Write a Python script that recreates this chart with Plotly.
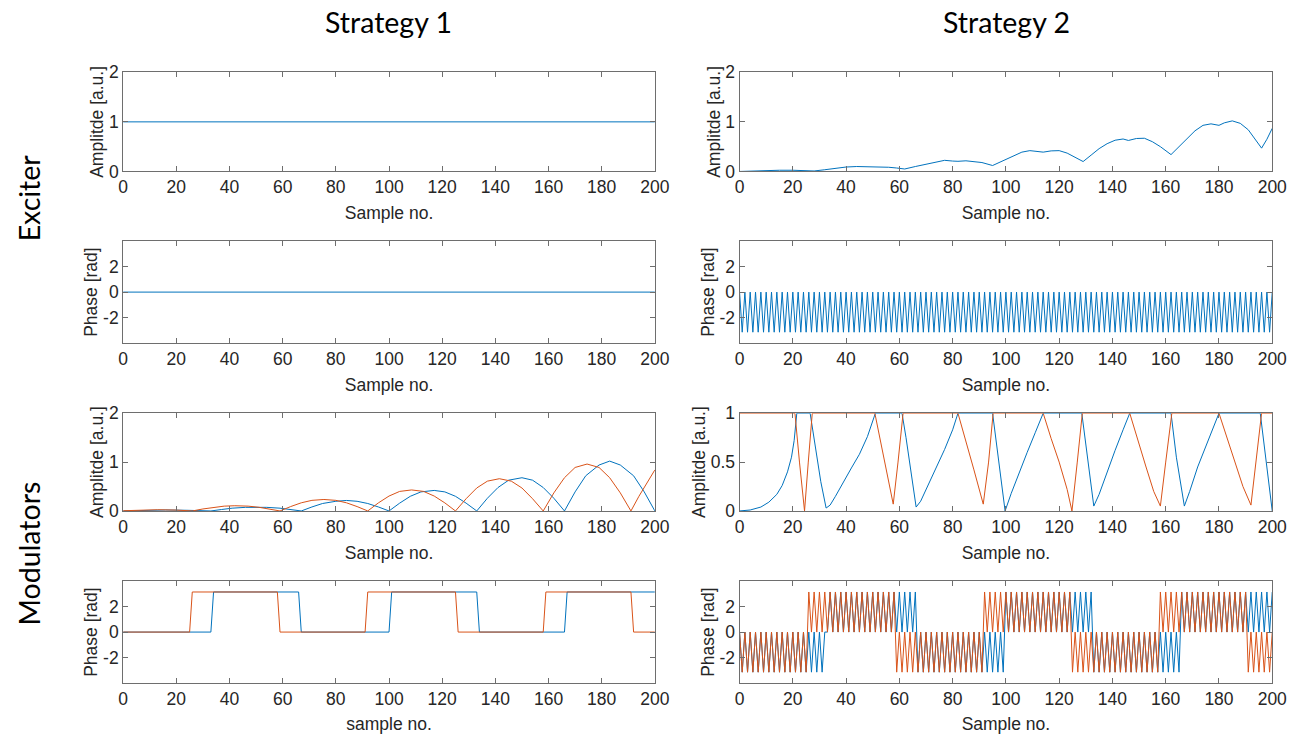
import plotly.graph_objects as go

# ---------------- data ----------------
TICKS_X = [0, 20, 40, 60, 80, 100, 120, 140, 160, 180, 200]
PH_TICKS = [-2, 0, 2]
PH_TICKTEXT = ["-2", "0", "2"]
AMP_TICKS = [0, 1, 2]
AMP2_TICKS = [0, 0.5, 1]
AMP2_TICKTEXT = ["0", "0.5", "1"]

# Strategy 1, exciter
S1_EXC_AMP_X = [0, 200]
S1_EXC_AMP_Y = [1, 1]
S1_EXC_PH_X = [0, 200]
S1_EXC_PH_Y = [0, 0]

# Strategy 2, exciter amplitude (key points)
S2_EXC_AMP_X = [0, 5, 10, 15, 20, 24, 28, 32, 36, 40, 44, 48, 52, 56, 59, 62, 66, 70, 74, 77,
                80, 82, 85, 88, 91, 95, 99, 103, 106, 109, 112, 114, 117, 120, 123, 126, 129,
                132, 135, 138, 141, 144, 146, 149, 152, 155, 158, 162, 165, 168, 171, 174, 177,
                180, 182, 185, 188, 191, 194, 196, 198, 200]
S2_EXC_AMP_Y = [0.0, 0.01, 0.02, 0.025, 0.025, 0.018, 0.01, 0.035, 0.065, 0.09, 0.1, 0.1, 0.085,
                0.085, 0.07, 0.05, 0.1, 0.15, 0.2, 0.225, 0.21, 0.205, 0.215, 0.205, 0.18, 0.12,
                0.22, 0.33, 0.39, 0.42, 0.41, 0.39, 0.415, 0.42, 0.37, 0.29, 0.2, 0.33, 0.46,
                0.56, 0.63, 0.655, 0.625, 0.665, 0.67, 0.6, 0.5, 0.34, 0.5, 0.68, 0.82, 0.93,
                0.96, 0.93, 0.98, 1.02, 0.97, 0.84, 0.62, 0.47, 0.65, 0.87]

# Strategy 2, exciter phase (one value per sample 0..200)
S2_EXC_PH = [
    0, -3.14, 0, -3.14, 0, -3.14, 0, -3.14, 0, -3.14, 0, -3.14, 0, -3.14, 0, -3.14, 0, -3.14, 0, -3.14,
    0, -3.14, 0, -3.14, 0, -3.14, 0, -3.14, 0, -3.14, 0, -3.14, 0, -3.14, 0, -3.14, 0, -3.14, 0, -3.14,
    0, -3.14, 0, -3.14, 0, -3.14, 0, -3.14, 0, -3.14, 0, -3.14, 0, -3.14, 0, -3.14, 0, -3.14, 0, -3.14,
    0, -3.14, 0, -3.14, 0, -3.14, 0, -3.14, 0, -3.14, 0, -3.14, 0, -3.14, 0, -3.14, 0, -3.14, 0, -3.14,
    0, -3.14, 0, -3.14, 0, -3.14, 0, -3.14, 0, -3.14, 0, -3.14, 0, -3.14, 0, -3.14, 0, -3.14, 0, -3.14,
    0, -3.14, 0, -3.14, 0, -3.14, 0, -3.14, 0, -3.14, 0, -3.14, 0, -3.14, 0, -3.14, 0, -3.14, 0, -3.14,
    0, -3.14, 0, -3.14, 0, -3.14, 0, -3.14, 0, -3.14, 0, -3.14, 0, -3.14, 0, -3.14, 0, -3.14, 0, -3.14,
    0, -3.14, 0, -3.14, 0, -3.14, 0, -3.14, 0, -3.14, 0, -3.14, 0, -3.14, 0, -3.14, 0, -3.14, 0, -3.14,
    0, -3.14, 0, -3.14, 0, -3.14, 0, -3.14, 0, -3.14, 0, -3.14, 0, -3.14, 0, -3.14, 0, -3.14, 0, -3.14,
    0, -3.14, 0, -3.14, 0, -3.14, 0, -3.14, 0, -3.14, 0, -3.14, 0, -3.14, 0, -3.14, 0, -3.14, 0, -3.14,
    0,
]

# Strategy 1, modulator amplitudes (key points)
S1_MOD_AMP_BLUE_X = [0, 8, 16, 24, 33, 37, 41, 46, 50, 54, 59, 63, 67, 71, 75, 80, 84, 88, 92, 96,
                     100, 104, 108, 112, 117, 121, 125, 129, 133, 137, 141, 145, 150, 154, 158,
                     162, 166, 170, 174, 179, 183, 187, 192, 196, 200]
S1_MOD_AMP_BLUE_Y = [0, 0.014, 0.02, 0.014, 0, 0.03, 0.057, 0.074, 0.08, 0.074, 0.057, 0.03, 0,
                     0.082, 0.153, 0.198, 0.215, 0.198, 0.153, 0.082, 0, 0.16, 0.3, 0.39, 0.42,
                     0.39, 0.3, 0.16, 0, 0.26, 0.48, 0.63, 0.68, 0.63, 0.48, 0.26, 0, 0.39, 0.72,
                     0.94, 1.02, 0.94, 0.72, 0.39, 0]
S1_MOD_AMP_RED_X = [0, 6, 13, 20, 26, 30, 34, 38, 42, 47, 51, 55, 59, 63, 67, 71, 75.5, 80, 84, 88,
                    92, 96, 100, 104, 108.5, 113, 117, 121, 125, 129, 133, 137, 141.5, 146, 150,
                    154, 158, 162, 166, 170, 174.5, 179, 183, 187, 191, 194, 197, 200]
S1_MOD_AMP_RED_Y = [0.005, 0.018, 0.025, 0.018, 0, 0.041, 0.076, 0.099, 0.107, 0.099, 0.076,
                    0.041, 0, 0.09, 0.167, 0.217, 0.235, 0.217, 0.167, 0.09, 0, 0.165, 0.305,
                    0.4, 0.43, 0.4, 0.305, 0.165, 0, 0.25, 0.47, 0.61, 0.66, 0.61, 0.47, 0.25, 0,
                    0.37, 0.68, 0.89, 0.96, 0.89, 0.68, 0.37, 0, 0.3, 0.58, 0.84]

# Strategy 1, modulator phases (change points)
S1_MOD_PH_BLUE_X = [0, 33, 34, 66, 67, 100, 101, 133, 134, 166, 167, 200]
S1_MOD_PH_BLUE_Y = [0, 0, 3.14, 3.14, 0, 0, 3.14, 3.14, 0, 0, 3.14, 3.14]
S1_MOD_PH_RED_X = [0, 25, 26, 58, 59, 91, 92, 125, 126, 158, 159, 191, 192, 200]
S1_MOD_PH_RED_Y = [0, 0, 3.14, 3.14, 0, 0, 3.14, 3.14, 0, 0, 3.14, 3.14, 0, 0]

# Strategy 2, modulator amplitudes (key points)
S2_MOD_AMP_BLUE_X = [0, 4, 8, 11, 14, 16, 18, 19.5, 20.5, 21.5, 26.5, 28.5, 30.5, 32.5, 34, 36, 39,
                     42, 45, 48, 51, 61, 62.5, 64.5, 66.3, 68, 71, 74, 77, 80, 82, 95, 97, 99.7,
                     102, 105, 108, 111, 114, 128.5, 130.5, 133, 135, 138, 141, 144, 146.5, 162,
                     164, 167, 169, 172, 175, 178, 180, 195.5, 197.5, 200]
S2_MOD_AMP_BLUE_Y = [0, 0.01, 0.04, 0.09, 0.17, 0.26, 0.4, 0.55, 0.72, 1.0, 1.0, 0.65, 0.3, 0.03,
                     0.06, 0.15, 0.3, 0.44, 0.58, 0.76, 1.0, 1.0, 0.75, 0.35, 0.04, 0.1, 0.28,
                     0.45, 0.63, 0.83, 1.0, 1.0, 0.55, 0.0, 0.18, 0.4, 0.6, 0.8, 1.0, 1.0, 0.55,
                     0.05, 0.17, 0.4, 0.62, 0.83, 1.0, 1.0, 0.55, 0.05, 0.2, 0.45, 0.65, 0.85,
                     1.0, 1.0, 0.55, 0.0]
S2_MOD_AMP_RED_X = [0, 20.8, 22.5, 24.4, 25.8, 27.3, 50.8, 53, 55, 57.7, 59.5, 61.4, 82, 85, 88,
                    91.5, 93.5, 95.2, 114, 117, 120, 123, 124.8, 126.8, 128.7, 146.5, 149.5,
                    152.5, 155.5, 158, 160, 162.3, 180, 183, 186, 189, 192, 194, 196, 200]
S2_MOD_AMP_RED_Y = [1, 1, 0.5, 0.0, 0.5, 1.0, 1.0, 0.7, 0.42, 0.07, 0.5, 1.0, 1.0, 0.72, 0.42,
                    0.07, 0.5, 1.0, 1.0, 0.74, 0.5, 0.22, 0.0, 0.5, 1.0, 1.0, 0.72, 0.46, 0.2,
                    0.05, 0.5, 1.0, 1.0, 0.75, 0.5, 0.25, 0.06, 0.5, 1.0, 1.0]

# Strategy 2, modulator phases (one value per sample 0..200)
S2_MOD_PH_BLUE = [
    # 0-32
    0, -3.14, 0, -3.14, 0, -3.14, 0, -3.14, 0, -3.14, 0, -3.14, 0, -3.14, 0, -3.14,
    0, -3.14, 0, -3.14, 0, -3.14, 0, -3.14, 0, -3.14, 0, -3.14, 0, -3.14, 0, -3.14,
    0,
    # 33-66
    0, 3.14, 0, 3.14, 0, 3.14, 0, 3.14, 0, 3.14, 0, 3.14, 0, 3.14, 0, 3.14,
    0, 3.14, 0, 3.14, 0, 3.14, 0, 3.14, 0, 3.14, 0, 3.14, 0, 3.14, 0, 3.14,
    0, 3.14,
    # 67-99
    -3.14, 0, -3.14, 0, -3.14, 0, -3.14, 0, -3.14, 0, -3.14, 0, -3.14, 0, -3.14, 0,
    -3.14, 0, -3.14, 0, -3.14, 0, -3.14, 0, -3.14, 0, -3.14, 0, -3.14, 0, -3.14, 0,
    -3.14,
    # 100-132
    3.14, 0, 3.14, 0, 3.14, 0, 3.14, 0, 3.14, 0, 3.14, 0, 3.14, 0, 3.14, 0,
    3.14, 0, 3.14, 0, 3.14, 0, 3.14, 0, 3.14, 0, 3.14, 0, 3.14, 0, 3.14, 0,
    3.14,
    # 133-165
    -3.14, 0, -3.14, 0, -3.14, 0, -3.14, 0, -3.14, 0, -3.14, 0, -3.14, 0, -3.14, 0,
    -3.14, 0, -3.14, 0, -3.14, 0, -3.14, 0, -3.14, 0, -3.14, 0, -3.14, 0, -3.14, 0,
    -3.14,
    # 166-200
    3.14, 0, 3.14, 0, 3.14, 0, 3.14, 0, 3.14, 0, 3.14, 0, 3.14, 0, 3.14, 0,
    3.14, 0, 3.14, 0, 3.14, 0, 3.14, 0, 3.14, 0, 3.14, 0, 3.14, 0, 3.14, 0,
    3.14, 0, 3.14,
]
S2_MOD_PH_RED = [
    # 0-25
    0, -3.14, 0, -3.14, 0, -3.14, 0, -3.14, 0, -3.14, 0, -3.14, 0, -3.14, 0, -3.14,
    0, -3.14, 0, -3.14, 0, -3.14, 0, -3.14, 0, -3.14,
    # 26-58
    3.14, 0, 3.14, 0, 3.14, 0, 3.14, 0, 3.14, 0, 3.14, 0, 3.14, 0, 3.14, 0,
    3.14, 0, 3.14, 0, 3.14, 0, 3.14, 0, 3.14, 0, 3.14, 0, 3.14, 0, 3.14, 0,
    3.14,
    # 59-91
    -3.14, 0, -3.14, 0, -3.14, 0, -3.14, 0, -3.14, 0, -3.14, 0, -3.14, 0, -3.14, 0,
    -3.14, 0, -3.14, 0, -3.14, 0, -3.14, 0, -3.14, 0, -3.14, 0, -3.14, 0, -3.14, 0,
    -3.14,
    # 92-124
    3.14, 0, 3.14, 0, 3.14, 0, 3.14, 0, 3.14, 0, 3.14, 0, 3.14, 0, 3.14, 0,
    3.14, 0, 3.14, 0, 3.14, 0, 3.14, 0, 3.14, 0, 3.14, 0, 3.14, 0, 3.14, 0,
    3.14,
    # 125-157
    -3.14, 0, -3.14, 0, -3.14, 0, -3.14, 0, -3.14, 0, -3.14, 0, -3.14, 0, -3.14, 0,
    -3.14, 0, -3.14, 0, -3.14, 0, -3.14, 0, -3.14, 0, -3.14, 0, -3.14, 0, -3.14, 0,
    -3.14,
    # 158-190
    3.14, 0, 3.14, 0, 3.14, 0, 3.14, 0, 3.14, 0, 3.14, 0, 3.14, 0, 3.14, 0,
    3.14, 0, 3.14, 0, 3.14, 0, 3.14, 0, 3.14, 0, 3.14, 0, 3.14, 0, 3.14, 0,
    3.14,
    # 191-200
    -3.14, 0, -3.14, 0, -3.14, 0, -3.14, 0, -3.14, 0,
]

COL_TITLES = ["Strategy 1", "Strategy 2"]
ROW_TITLES = ["Exciter", "Modulators"]
AMP_TITLE = "Amplitde [a.u.]"
PH_TITLE = "Phase [rad]"

# ---------------- styling / layout ----------------
W, H = 1303, 734
BLUE = "#0072BD"
RED = "#D95319"
AXC = "#6e6e6e"
TXT = "#262626"

COLS = [(120, 660), (746, 1287)]          # pixel x extents
ROWS = [(64, 166), (237.5, 342.5), (414.5, 515), (587, 692)]  # pixel y extents


def xdom(c):
    a, b = COLS[c]
    return [a / W, b / W]


def ydom(r):
    a, b = ROWS[r]
    return [1 - b / H, 1 - a / H]


fig = go.Figure()

panels = [
    # (row, col, yrange, ytickvals, yticktext, ytitle, xtitle, traces)
    (0, 0, [0, 2], AMP_TICKS, None, AMP_TITLE, "Sample no.",
     [(S1_EXC_AMP_X, S1_EXC_AMP_Y, BLUE)]),
    (0, 1, [0, 2], AMP_TICKS, None, AMP_TITLE, "Sample no.",
     [(S2_EXC_AMP_X, S2_EXC_AMP_Y, BLUE)]),
    (1, 0, [-4, 4], PH_TICKS, PH_TICKTEXT, PH_TITLE, "Sample no.",
     [(S1_EXC_PH_X, S1_EXC_PH_Y, BLUE)]),
    (1, 1, [-4, 4], PH_TICKS, PH_TICKTEXT, PH_TITLE, "Sample no.",
     [(list(range(len(S2_EXC_PH))), S2_EXC_PH, BLUE)]),
    (2, 0, [0, 2], AMP_TICKS, None, AMP_TITLE, "Sample no.",
     [(S1_MOD_AMP_BLUE_X, S1_MOD_AMP_BLUE_Y, BLUE), (S1_MOD_AMP_RED_X, S1_MOD_AMP_RED_Y, RED)]),
    (2, 1, [0, 1], AMP2_TICKS, AMP2_TICKTEXT, AMP_TITLE, "Sample no.",
     [(S2_MOD_AMP_BLUE_X, S2_MOD_AMP_BLUE_Y, BLUE), (S2_MOD_AMP_RED_X, S2_MOD_AMP_RED_Y, RED)]),
    (3, 0, [-4, 4], PH_TICKS, PH_TICKTEXT, PH_TITLE, "sample no.",
     [(S1_MOD_PH_BLUE_X, S1_MOD_PH_BLUE_Y, BLUE), (S1_MOD_PH_RED_X, S1_MOD_PH_RED_Y, RED)]),
    (3, 1, [-4, 4], PH_TICKS, PH_TICKTEXT, PH_TITLE, "Sample no.",
     [(list(range(len(S2_MOD_PH_BLUE))), S2_MOD_PH_BLUE, BLUE),
      (list(range(len(S2_MOD_PH_RED))), S2_MOD_PH_RED, RED)]),
]

FS = 17.5
layout = dict(
    width=W, height=H,
    margin=dict(l=0, r=0, t=0, b=0),
    paper_bgcolor="white", plot_bgcolor="white",
    showlegend=False,
    font=dict(family="Liberation Sans, Arial, sans-serif", size=FS, color=TXT),
)

for i, (r, c, yr, ytv, ytt, ytitle, xtitle, traces) in enumerate(panels):
    n = i + 1
    xa = "x" if n == 1 else f"x{n}"
    ya = "y" if n == 1 else f"y{n}"
    for (xs, ys, col) in traces:
        fig.add_trace(go.Scatter(x=xs, y=ys, mode="lines", xaxis=xa, yaxis=ya,
                                 line=dict(color=col, width=1), hoverinfo="skip"))
    common = dict(showline=True, linecolor=AXC, linewidth=1, mirror="ticks",
                  ticks="inside", ticklen=5, tickcolor=AXC, showgrid=False,
                  zeroline=False, tickfont=dict(size=FS, color=TXT))
    layout[f"xaxis{n}" if n > 1 else "xaxis"] = dict(
        domain=xdom(c), anchor=ya, range=[0, 200], tickvals=TICKS_X,
        title=dict(text=xtitle, standoff=10, font=dict(size=FS, color=TXT)), **common)
    yax = dict(domain=ydom(r), anchor=xa, range=yr, tickvals=ytv,
               title=dict(text=ytitle, standoff=0, font=dict(size=FS, color=TXT)), **common)
    if ytt is not None:
        yax["ticktext"] = ytt
    layout[f"yaxis{n}" if n > 1 else "yaxis"] = yax

annotations = []
col_centers = [389.5, 1017.5]
for c, t in enumerate(COL_TITLES):
    annotations.append(dict(text=t, x=col_centers[c] / W, y=1 - 12 / H, xref="paper", yref="paper",
                            showarrow=False, xanchor="center", yanchor="middle",
                            font=dict(family="Lato, Open Sans, sans-serif", size=28.5, color="black")))
row_centers = [193, 559]
for r, t in enumerate(ROW_TITLES):
    annotations.append(dict(text=t, x=24 / W, y=1 - row_centers[r] / H, xref="paper", yref="paper",
                            showarrow=False, xanchor="center", yanchor="middle", textangle=-90,
                            font=dict(family="Lato, Open Sans, sans-serif", size=28.5, color="black")))
layout["annotations"] = annotations

fig.update_layout(**layout)
fig.write_html(
    "out.html",
    config={"displayModeBar": False},
    post_script="document.body.style.margin='0';document.body.style.overflow='hidden';",
)
